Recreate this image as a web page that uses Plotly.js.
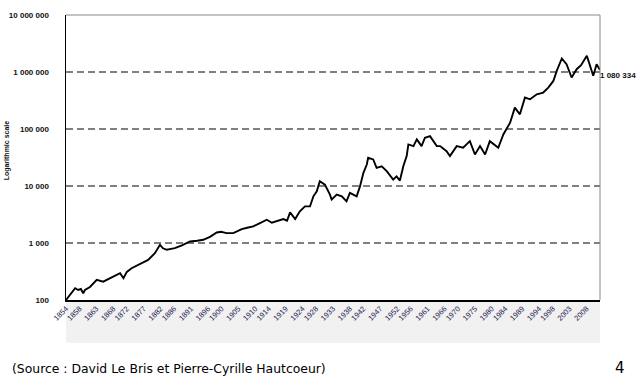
<!DOCTYPE html>
<html>
<head>
<meta charset="utf-8">
<script src="https://cdn.plot.ly/plotly-3.0.1.min.js"></script>
<style>
html,body{margin:0;padding:0;background:#fff;}
#chart{width:637px;height:385px;}
</style>
</head>
<body>
<div id="chart"></div>
<script>
// Years (fractional) and index values
var years = [1854.0,1854.9,1855.8,1856.7,1857.6,1858.4,1859.1,1859.6,1861.1,1863.1,1865.0,1867.0,1868.5,1870.0,1871.0,1872.0,1873.4,1875.4,1876.8,1878.3,1880.3,1881.8,1882.7,1883.8,1885.1,1886.2,1888.3,1890.7,1892.8,1894.6,1896.6,1898.6,1899.9,1901.5,1903.5,1906.0,1907.6,1909.4,1911.4,1913.4,1914.9,1916.7,1918.3,1919.4,1920.3,1921.8,1923.2,1924.7,1926.2,1927.2,1928.2,1929.1,1930.6,1932.1,1932.6,1934.1,1935.6,1937.0,1938.0,1940.0,1941.0,1942.0,1943.0,1943.4,1944.9,1945.9,1947.4,1948.9,1950.8,1951.8,1952.8,1953.8,1954.8,1955.3,1956.8,1957.8,1959.2,1960.2,1961.7,1963.7,1964.7,1966.6,1967.6,1969.6,1971.5,1973.5,1975.0,1976.5,1978.0,1979.4,1981.9,1983.4,1985.4,1986.8,1988.3,1989.8,1991.3,1993.3,1995.2,1996.7,1998.2,1999.2,2000.7,2002.1,2003.6,2005.1,2006.4,2008.1,2009.6,2010.0,2011.0,2012.0];
var index = [100,118,133,161,150,156,131,150,169,225,210,241,265,295,241,311,361,413,448,506,664,929,807,760,790,813,912,1063,1093,1138,1285,1530,1574,1492,1492,1757,1853,1952,2240,2558,2270,2460,2635,2460,3444,2635,3588,4395,4395,6590,8070,12100,10590,7060,5770,7060,6590,5380,7560,6590,9880,17000,23800,31200,29200,20800,22200,18200,12970,14800,12450,22200,33400,53600,50100,65600,50100,70300,75000,50100,50100,40800,33400,50100,46900,61200,35700,50100,35700,61200,46900,80400,129000,237000,181000,356000,332000,407000,436000,533000,697000,1045000,1728000,1371000,800000,1119000,1318000,1928000,1045000,857000,1371000,1080334];

var tickYears = [1854,1858,1863,1868,1872,1877,1882,1886,1891,1896,1900,1905,1910,1914,1919,1924,1928,1933,1938,1942,1947,1952,1956,1961,1966,1970,1975,1980,1984,1989,1994,1998,2003,2008];
var tickLabels = tickYears.map(String);

var yTickVals = [100,1000,10000,100000,1000000,10000000];
var yTickText = ["100","1 000","10 000","100 000","1 000 000","10 000 000"];
var gridVals = [1000,10000,100000,1000000];
var lastLabel = "1 080 334";

var xr = [1854, 2012];
var traces = [];
gridVals.forEach(function(g){
  traces.push({x: xr, y: [g, g], mode: 'lines', line: {color: '#000', width: 1, dash: '7px,4px'}, hoverinfo: 'skip', showlegend: false});
});
traces.push({x: years, y: index, mode: 'lines', line: {color: '#000', width: 1.9}, showlegend: false});

var boldFont = {family: 'Liberation Sans, Arial, sans-serif', size: 8, color: '#111', weight: 'bold'};

var layout = {
  width: 637, height: 385,
  margin: {l: 66, r: 37, t: 15, b: 85},
  paper_bgcolor: '#fff', plot_bgcolor: '#fff',
  showlegend: false,
  xaxis: {
    range: xr, type: 'linear',
    tickmode: 'array', tickvals: tickYears, ticktext: tickLabels,
    tickangle: -45, tickfont: {family: 'Liberation Sans, Arial, sans-serif', size: 7.5, color: '#1c2050'},
    showgrid: false, zeroline: false,
    showline: true, linecolor: '#000', linewidth: 1.5,
    ticks: '', ticklen: 0
  },
  yaxis: {
    type: 'log', range: [2, 7],
    tickmode: 'array', tickvals: yTickVals, ticktext: yTickText,
    tickfont: boldFont, ticklabelstandoff: 14,
    showgrid: false, zeroline: false,
    showline: true, linecolor: '#000', linewidth: 1.5,
    ticks: '', ticklen: 0
  },
  shapes: [
    {type: 'rect', xref: 'paper', yref: 'paper', x0: 0, x1: 1, y0: -0.15, y1: 0, fillcolor: '#f1f1f1', line: {width: 0}, layer: 'below'},
    {type: 'line', xref: 'paper', yref: 'paper', x0: 0, x1: 1, y0: 1, y1: 1, line: {color: '#888', width: 1}},
    {type: 'line', xref: 'paper', yref: 'paper', x0: 1, x1: 1, y0: 0, y1: 1, line: {color: '#888', width: 1}}
  ],
  annotations: [
    {text: 'Logarithmic scale', xref: 'paper', yref: 'paper', x: -0.11, y: 0.526, textangle: -90, showarrow: false, xanchor: 'center', yanchor: 'middle', font: {family: 'Liberation Sans, Arial, sans-serif', size: 7, color: '#111', weight: 'bold'}},
    {text: lastLabel, xref: 'paper', yref: 'y', x: 0.996, y: Math.log10(index[index.length-1]), yshift: -5, showarrow: false, xanchor: 'left', yanchor: 'middle', font: boldFont},
    {text: '(Source : David Le Bris et Pierre-Cyrille Hautcoeur)', xref: 'paper', yref: 'paper', x: -0.1049, y: -0.2386, showarrow: false, xanchor: 'left', yanchor: 'middle', font: {family: 'DejaVu Sans, sans-serif', size: 12.4, color: '#000'}},
    {text: '4', xref: 'paper', yref: 'paper', x: 1.037, y: -0.2386, showarrow: false, xanchor: 'center', yanchor: 'middle', font: {family: 'DejaVu Sans, sans-serif', size: 15, color: '#000'}}
  ]
};

Plotly.newPlot('chart', traces, layout, {displayModeBar: false, staticPlot: true});
</script>
</body>
</html>
